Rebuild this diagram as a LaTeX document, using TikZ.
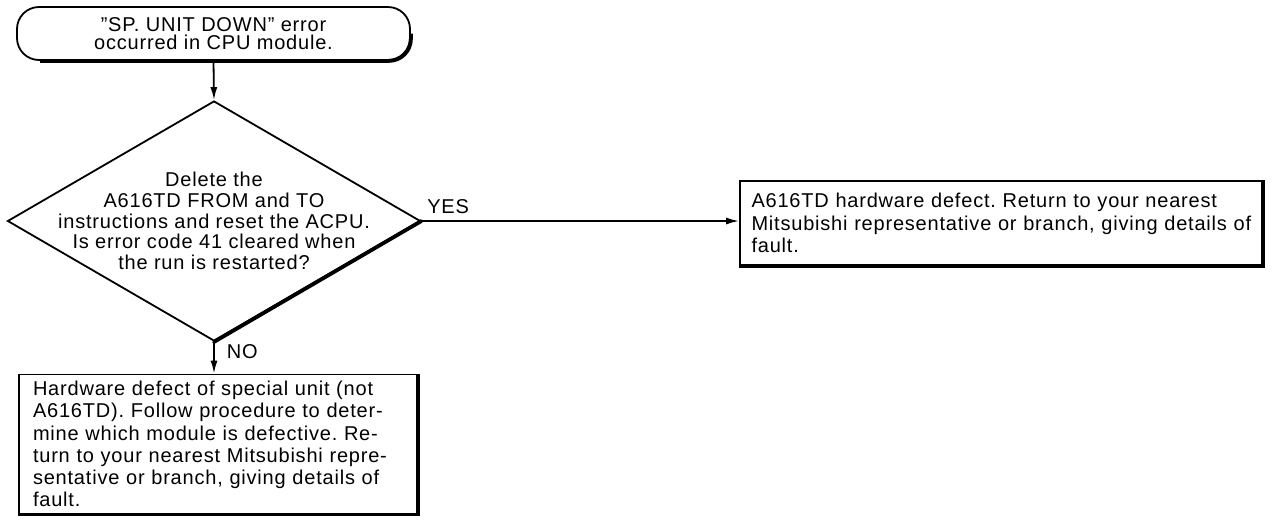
\documentclass[tikz,border=0pt]{standalone}
\usepackage{fontspec}
\setmainfont{Liberation Sans}[LetterSpace=4]
\usetikzlibrary{shapes.geometric,arrows.meta,calc}
\newcommand\jline[1]{\makebox[\linewidth][s]{#1}\\}
\begin{document}
\frenchspacing
\begin{tikzpicture}[x=1pt,y=-1pt,
  thin line/.style={line width=1.8pt},
  heavy/.style={line width=3.8pt},
  arr/.style={line width=1.8pt,-{Latex[length=13pt,width=7pt]}},
  boxtxt/.style={font=\fontsize{20}{22.2}\selectfont},
  box/.style={draw,thin line,inner sep=0pt,align=left,boxtxt}]
\useasboundingbox (0,0) rectangle (1272,523);

\node[draw,thin line,rounded corners=22pt,minimum width=393pt,minimum height=53pt,
  inner sep=0pt,align=center,font=\fontsize{20}{17.5}\selectfont] (start) at (213.5,33.5)
  {”SP. UNIT DOWN” error\\occurred in CPU module.};
\draw[heavy,rounded corners=22pt] ($(start.south west)+(24,0)$) -- (start.south east) -- (start.east);

\node[diamond,draw,thin line,minimum width=413pt,minimum height=240pt,inner sep=0pt] (dec) at (214,221) {};
\node[align=center,inner sep=0pt,font=\fontsize{20}{20.75}\selectfont] (dectext) at (dec.center)
  {Delete the\\A616TD FROM and TO\\instructions and reset the ACPU.\\Is error code 41 cleared when\\the run is restarted?};
\draw[heavy,line cap=round] (dec.east) -- (dec.south);

\node[box,minimum width=522pt,minimum height=84pt,text width=499pt] (yesbox) at (1001,223)
  {\jline{A616TD hardware defect. Return to your nearest}\jline{Mitsubishi representative or branch, giving details of}fault.};
\draw[heavy] (yesbox.south west) -- (yesbox.south east) -- (yesbox.north east);

\node[box,minimum width=398pt,minimum height=139pt,text width=370pt] (nobox) at (218,444)
  {\jline{Hardware defect of special unit (not}\jline{A616TD). Follow procedure to deter-}\jline{mine which module is defective. Re-}\jline{turn to your nearest Mitsubishi repre-}\jline{sentative or branch, giving details of}fault.};
\draw[heavy] (nobox.south west) -- (nobox.south east) -- (nobox.north east);

\draw[arr] (start.south) -- (dec.north);
\draw[arr] (dec.east) -- (dec.east -| yesbox.west)
  node[pos=0,anchor=south west,inner sep=0pt,xshift=5pt,yshift=6pt,boxtxt] (yeslbl) {YES};
\draw[arr] (dec.south) -- (dec.south |- nobox.north)
  node[pos=0.3,anchor=west,inner sep=0pt,xshift=12pt,boxtxt] (nolbl) {NO};
\end{tikzpicture}
\end{document}
